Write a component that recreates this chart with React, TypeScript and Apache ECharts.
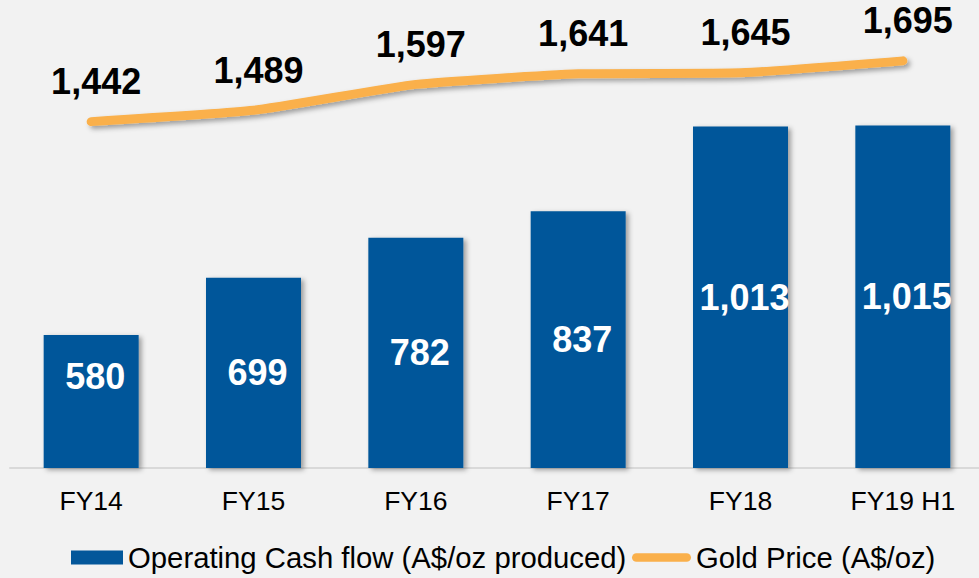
import React, { useEffect, useRef } from 'react';
import * as echarts from 'echarts';

const categories = ['FY14', 'FY15', 'FY16', 'FY17', 'FY18', 'FY19 H1'];
const cashFlow = [580, 699, 782, 837, 1013, 1015];
const goldPrice = [1442, 1489, 1597, 1641, 1645, 1695];
const cashFlowName = 'Operating Cash flow (A$/oz produced)';
const goldName = 'Gold Price (A$/oz)';

const FONT = "'Liberation Sans', Arial, Helvetica, sans-serif";
const fmt = (v: number) => v.toLocaleString('en-US');

export default function App() {
  const ref = useRef<HTMLDivElement>(null);
  useEffect(() => {
    if (!ref.current) return;
    const chart = echarts.init(ref.current, undefined, { renderer: 'svg' });
    chart.setOption({
      animation: false,
      backgroundColor: '#F2F2F2',
      textStyle: { fontFamily: FONT },
      grid: { left: 10, width: 974, top: 28, height: 440 },
      legend: [
        {
          left: 71,
          top: 543,
          padding: 0,
          itemWidth: 52,
          itemHeight: 14,
          icon: 'rect',
          data: [cashFlowName],
          textStyle: { fontSize: 29.3, color: '#000', fontFamily: FONT },
        },
        {
          left: 632,
          top: 543,
          padding: 0,
          itemWidth: 59,
          itemHeight: 9,
          icon: 'path://M4.5,0 L56.5,0 A4.5,4.5 0 0 1 56.5,9 L4.5,9 A4.5,4.5 0 0 1 4.5,0 Z',
          data: [goldName],
          textStyle: { fontSize: 29.3, color: '#000', fontFamily: FONT },
        },
      ],
      xAxis: {
        type: 'category',
        data: categories,
        axisLine: { lineStyle: { color: '#D9D9D9', width: 2 } },
        axisTick: { show: false },
        axisLabel: { fontSize: 26.5, color: '#000', margin: 19, fontFamily: FONT },
      },
      yAxis: [
        { type: 'value', min: 304, max: 304 + 440 / 0.4816, show: false, splitLine: { show: false } },
        { type: 'value', min: 0, max: 440 / 0.2402, show: false, splitLine: { show: false } },
      ],
      series: [
        {
          name: cashFlowName,
          type: 'bar',
          yAxisIndex: 0,
          barWidth: 95,
          data: cashFlow.map((v, i) => (i === 0 ? { value: v, label: { offset: [4, -25] } } : v)),
          itemStyle: {
            color: '#03579A',
            shadowColor: 'rgba(0,0,0,0.35)',
            shadowBlur: 5,
            shadowOffsetX: 3,
            shadowOffsetY: 2,
          },
          label: {
            show: true,
            position: 'inside',
            offset: [4, 0],
            color: '#fff',
            fontSize: 36,
            fontWeight: 'bold',
            fontFamily: FONT,
            formatter: (p: any) => fmt(p.value),
          },
        },
        {
          name: goldName,
          type: 'line',
          yAxisIndex: 1,
          data: goldPrice,
          smooth: 0.15,
          symbol: 'circle',
          symbolSize: 2,
          showSymbol: true,
          color: '#FAB04B',
          itemStyle: { color: '#FAB04B' },
          lineStyle: {
            color: '#FAB04B',
            width: 9,
            cap: 'round',
            join: 'round',
            shadowColor: 'rgba(0,0,0,0.35)',
            shadowBlur: 5,
            shadowOffsetX: 3,
            shadowOffsetY: 3,
          },
          label: {
            show: true,
            position: 'top',
            distance: 21,
            offset: [5, 0],
            color: '#000',
            fontSize: 36,
            fontWeight: 'bold',
            fontFamily: FONT,
            formatter: (p: any) => fmt(p.value),
          },
        },
      ],
    });
    return () => chart.dispose();
  }, []);
  return (
    <div style={{ position: 'fixed', left: 0, top: 0, width: 979, height: 578, overflow: 'hidden' }}>
      <div ref={ref} style={{ width: 994, height: 578 }} />
    </div>
  );
}
